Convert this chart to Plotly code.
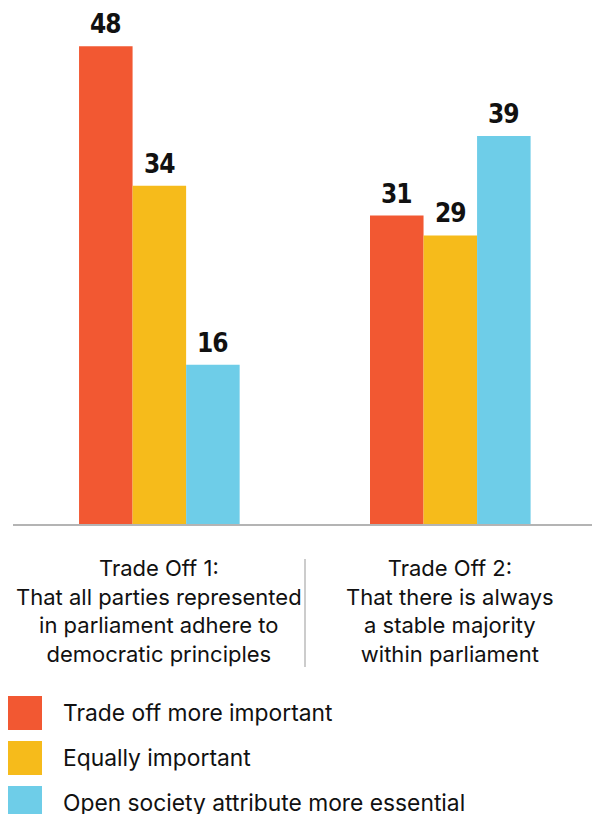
import plotly.graph_objects as go

categories = ["Trade Off 1:<br>That all parties represented<br>in parliament adhere to<br>democratic principles",
              "Trade Off 2:<br>That there is always<br>a stable majority<br>within parliament"]
series_names = ["Trade off more important", "Equally important", "Open society attribute more essential"]
series_values = [[48, 31], [34, 29], [16, 39]]
colors = ["#F25832", "#F6BB1B", "#6ECDE8"]

W, H = 592, 814
ML, MR, MT, MB = 13, 0, 0, 290
PW, PH = W - ML - MR, H - MT - MB
BARGAP = 0.448

def px_x(X):
    return (X - ML) / PW

def px_y(Y):
    return (H - MB - Y) / PH

label_font = dict(family="DejaVu Sans Condensed, Liberation Sans Narrow, DejaVu Sans, sans-serif", size=26, color="#111111", weight="bold")
text_font = dict(family="Inter, Roboto, sans-serif", size=22, color="#111111")
legend_font = dict(family="Inter, Roboto, sans-serif", size=22.8, color="#111111")

fig = go.Figure()
xs = list(range(len(categories)))
n = len(series_names)
w = (1 - BARGAP) / n
annotations = []
for k, (name, vals, col) in enumerate(zip(series_names, series_values, colors)):
    fig.add_trace(go.Bar(
        x=xs, y=vals, name=name, marker=dict(color=col, line=dict(width=0)),
        showlegend=False,
    ))
    for i, v in enumerate(vals):
        annotations.append(dict(x=xs[i] + (k - (n - 1) / 2) * w, xref="x", y=v, yref="y",
                                text="<span style='font-stretch:condensed;letter-spacing:-1px'>%d</span>" % v,
                                showarrow=False, xanchor="center", yanchor="middle", yshift=22,
                                font=label_font))

for i, c in enumerate(categories):
    annotations.append(dict(x=i, xref="x", y=px_y(611), yref="paper", text=c, showarrow=False,
                            xanchor="center", yanchor="middle", align="center", font=text_font))

shapes = [dict(type="line", xref="paper", yref="paper", x0=px_x(305), x1=px_x(305),
               y0=px_y(559), y1=px_y(667), line=dict(color="#cccccc", width=2))]

leg_top = 696
leg_step = 45
sq = 34
for k, (name, col) in enumerate(zip(series_names, colors)):
    top = leg_top + k * leg_step
    shapes.append(dict(type="rect", xref="paper", yref="paper", x0=px_x(8), x1=px_x(8 + sq),
                       y0=px_y(top + sq), y1=px_y(top), fillcolor=col, line=dict(width=0)))
    annotations.append(dict(x=px_x(61), xref="paper", y=px_y(top + sq / 2 - 1), yref="paper", text=name,
                            showarrow=False, xanchor="left", yanchor="middle", font=legend_font))

fig.update_layout(
    width=W, height=H, margin=dict(l=ML, r=MR, t=MT, b=MB),
    paper_bgcolor="white", plot_bgcolor="white",
    barmode="group", bargap=BARGAP, bargroupgap=0,
    xaxis=dict(range=[-0.503, 1.487], showticklabels=False, ticks="", showgrid=False, zeroline=False,
               showline=True, linecolor="#b4b4b4", linewidth=1.5, fixedrange=True),
    yaxis=dict(range=[0, 52.66], visible=False, showgrid=False, zeroline=False, fixedrange=True),
    annotations=annotations, shapes=shapes,
)
fig.write_html("out.html")
